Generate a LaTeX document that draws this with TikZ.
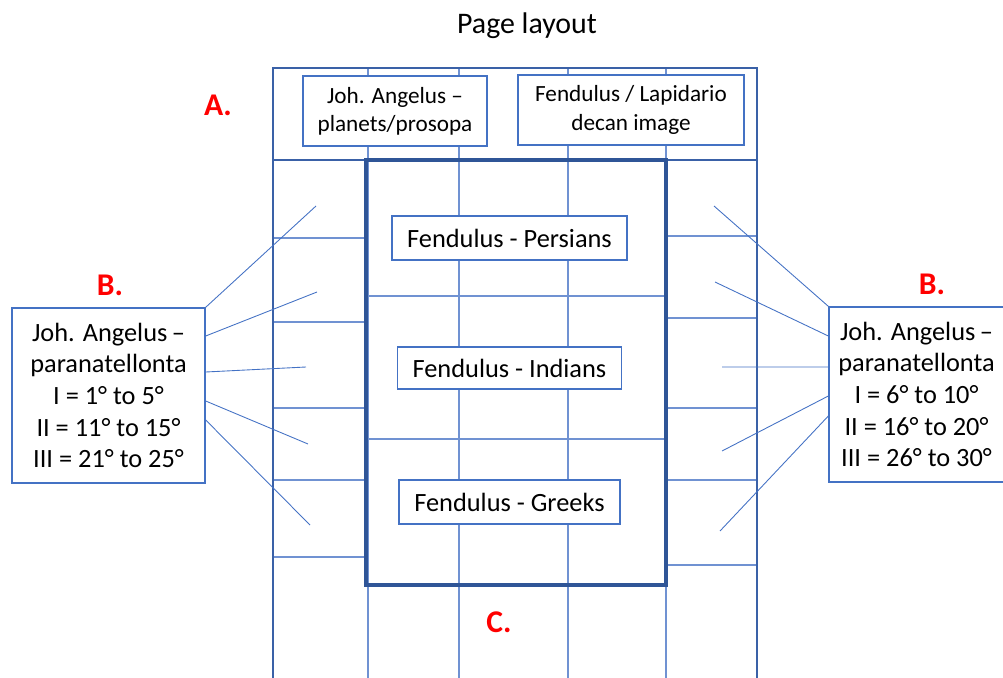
\documentclass[tikz,border=0pt]{standalone}
\usepackage{fontspec}
\setmainfont{Carlito}
\usetikzlibrary{positioning}
\definecolor{pageblue}{RGB}{68,114,196}
\definecolor{framblue}{RGB}{47,85,151}
\definecolor{gridblue}{RGB}{112,146,210}

\begin{document}
\begin{tikzpicture}[x=0.02cm,y=-0.02cm,
    tag/.style={text=red,font=\fontsize{18}{21}\selectfont\bfseries},
    tbox/.style={draw=pageblue,line width=0.8pt,fill=white,inner sep=0pt,align=center,
      font=\fontsize{15}{18}\selectfont},
    hbox/.style={tbox,font=\fontsize{13.2}{16}\selectfont,minimum height=1.4cm},
    gline/.style={draw=gridblue,line width=0.6pt},
    lead/.style={draw=pageblue,line width=0.5pt}]
  \useasboundingbox (0,0) rectangle (1003,678);

  \node[font=\fontsize{17}{20}\selectfont] (title) at (527,26) {Page layout};

  % grid of the page
  \foreach \x in {368,459,568,666}
    \draw[gline] (\x,68) -- (\x,678);
  \foreach \y in {238,322,408,480,557}
    \draw[gline] (274,\y) -- (366,\y);
  \foreach \y in {236,318,408,480,565}
    \draw[gline] (666,\y) -- (757,\y);
  \foreach \y in {296,439}
    \draw[gline] (366,\y) -- (666,\y);
  \draw[draw=pageblue!85!black,line width=1.1pt] (273,678) -- (273,68) -- (757,68) -- (757,678);
  \draw[draw=pageblue!85!black,line width=1.1pt] (273,160) -- (757,160);
  \draw[draw=framblue,line width=2pt] (366,160) rectangle (666,585);

  % boxes
  \node[hbox,minimum width=3.68cm] (JA) at (395,111) {Joh. Angelus --\\planets/prosopa};
  \node[hbox,minimum width=4.52cm] (FL) at (631,110) {Fendulus / Lapidario\\decan image};
  \node[tbox,minimum width=4.7cm,minimum height=0.88cm] (Pers) at (509.5,238) {Fendulus - Persians};
  \node[tbox,on grid,below=2.6cm of Pers,minimum width=4.48cm,minimum height=0.84cm] (Ind) {Fendulus - Indians};
  \node[tbox,on grid,below=2.68cm of Ind,minimum width=4.42cm,minimum height=0.88cm] (Gre) {Fendulus - Greeks};
  \node[tbox,minimum width=3.86cm,minimum height=3.5cm] (BL) at (108.5,395.5)
    {Joh. Angelus\,--\\paranatellonta\\I = 1° to 5°\\II = 11° to 15°\\III = 21° to 25°};
  \node[tbox,minimum width=3.5cm,minimum height=3.5cm] (BR) at (916.5,394.5)
    {Joh. Angelus\,--\\paranatellonta\\I = 6° to 10°\\II = 16° to 20°\\III = 26° to 30°};

  \node[tag] (A) at (218,105) {A.};
  \node[tag] (BLt) at (110,285) {B.};
  \node[tag] (BRt) at (932,284) {B.};
  \node[tag] (C) at (499,622) {C.};

  % lead lines
  \coordinate (l1) at (316,206);
  \coordinate (l2) at (317,292);
  \coordinate (l3) at (306,367);
  \coordinate (l4) at (308,444);
  \coordinate (l5) at (310,525);
  \coordinate (r1) at (714,206);
  \coordinate (r2) at (715,282);
  \coordinate (r3) at (722,367);
  \coordinate (r4) at (722,451);
  \coordinate (r5) at (720,531);
  \draw[lead] (BL.north east) -- (l1);
  \draw[lead] ([yshift=1.19cm]BL.east) -- (l2);
  \draw[lead] ([yshift=0.47cm]BL.east) -- (l3);
  \draw[lead] ([yshift=-0.11cm]BL.east) -- (l4);
  \draw[lead] ([yshift=-0.49cm]BL.east) -- (l5);
  \draw[lead] (BR.north west) -- (r1);
  \draw[lead] ([yshift=1.17cm]BR.west) -- (r2);
  \draw[lead] ([yshift=0.55cm]BR.west) -- (r3);
  \draw[lead] ([yshift=-0.03cm]BR.west) -- (r4);
  \draw[lead] ([yshift=-0.43cm]BR.west) -- (r5);
\end{tikzpicture}
\end{document}
